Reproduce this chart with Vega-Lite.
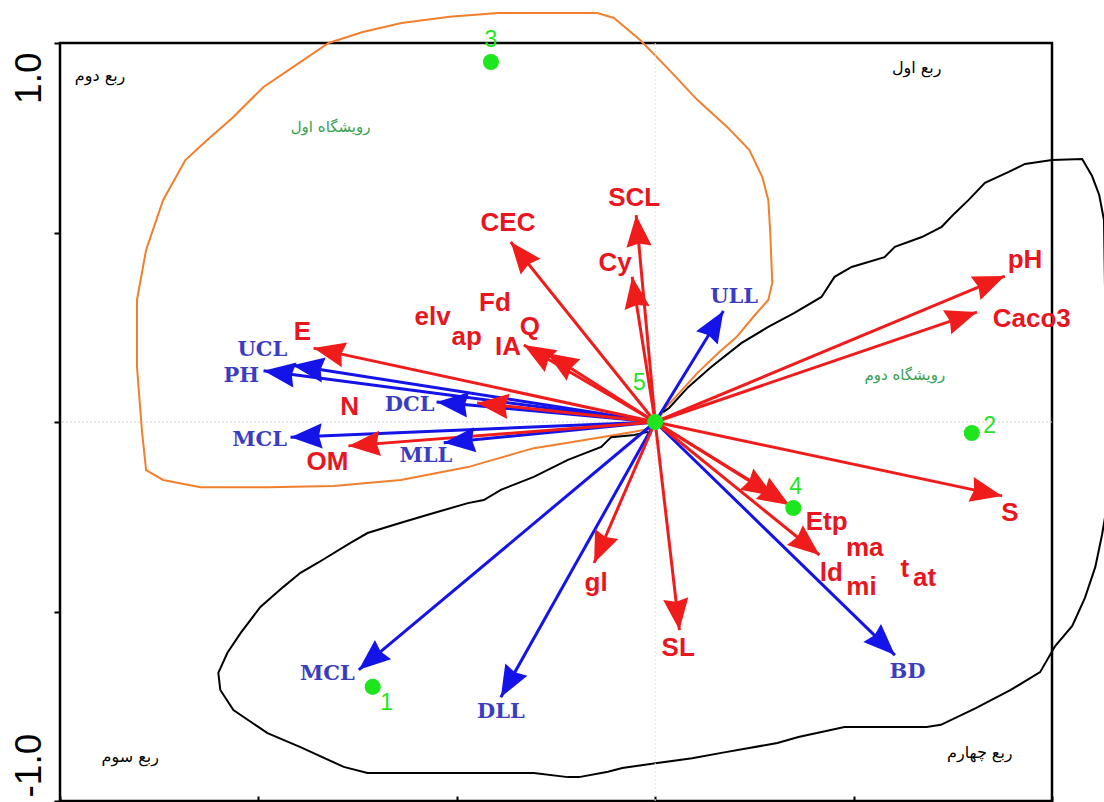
{
  "$schema": "https://vega.github.io/schema/vega-lite/v6.json",
  "width": 992,
  "height": 758,
  "autosize": {"type": "none"},
  "padding": {"left": 60, "top": 43, "right": 52, "bottom": 1},
  "background": "white",
  "config": {"view": {"stroke": "black", "strokeWidth": 2.5}},
  "datasets": {
    "orange": [
      {"ord":1,"x":0.008,"y":0.005},{"ord":2,"x":-0.005,"y":-0.016},{"ord":3,"x":-0.053,"y":-0.026},{"ord":4,"x":-0.136,"y":-0.040},
      {"ord":5,"x":-0.220,"y":-0.055},{"ord":6,"x":-0.306,"y":-0.069},{"ord":7,"x":-0.472,"y":-0.119},{"ord":8,"x":-0.641,"y":-0.153},
      {"ord":9,"x":-0.811,"y":-0.169},{"ord":10,"x":-0.977,"y":-0.172},{"ord":11,"x":-1.146,"y":-0.172},{"ord":12,"x":-1.240,"y":-0.153},
      {"ord":13,"x":-1.283,"y":-0.127},{"ord":14,"x":-1.293,"y":-0.029},{"ord":15,"x":-1.306,"y":0.145},{"ord":16,"x":-1.306,"y":0.322},
      {"ord":17,"x":-1.283,"y":0.454},{"ord":18,"x":-1.240,"y":0.586},{"ord":19,"x":-1.184,"y":0.691},{"ord":20,"x":-1.129,"y":0.744},
      {"ord":21,"x":-1.063,"y":0.805},{"ord":22,"x":-0.987,"y":0.884},{"ord":23,"x":-0.912,"y":0.937},{"ord":24,"x":-0.823,"y":1.000},
      {"ord":25,"x":-0.737,"y":1.029},{"ord":26,"x":-0.639,"y":1.053},{"ord":27,"x":-0.518,"y":1.069},{"ord":28,"x":-0.396,"y":1.079},
      {"ord":29,"x":-0.146,"y":1.079},{"ord":30,"x":-0.104,"y":1.066},{"ord":31,"x":-0.038,"y":1.008},{"ord":32,"x":0.028,"y":0.937},
      {"ord":33,"x":0.106,"y":0.850},{"ord":34,"x":0.182,"y":0.778},{"ord":35,"x":0.237,"y":0.718},{"ord":36,"x":0.270,"y":0.646},
      {"ord":37,"x":0.285,"y":0.586},{"ord":38,"x":0.290,"y":0.499},{"ord":39,"x":0.295,"y":0.367},{"ord":40,"x":0.285,"y":0.322},
      {"ord":41,"x":0.247,"y":0.277},{"ord":42,"x":0.205,"y":0.224},{"ord":43,"x":0.159,"y":0.182},{"ord":44,"x":0.106,"y":0.129},
      {"ord":45,"x":0.061,"y":0.077},{"ord":46,"x":0.028,"y":0.040},{"ord":47,"x":0.008,"y":0.005}
    ],
    "black": [
      {"ord":1,"x":0.020,"y":0.026},{"ord":2,"x":0.035,"y":0.037},{"ord":3,"x":0.083,"y":0.092},{"ord":4,"x":0.141,"y":0.145},
      {"ord":5,"x":0.217,"y":0.208},{"ord":6,"x":0.285,"y":0.251},{"ord":7,"x":0.351,"y":0.288},{"ord":8,"x":0.419,"y":0.330},
      {"ord":9,"x":0.452,"y":0.383},{"ord":10,"x":0.495,"y":0.409},{"ord":11,"x":0.578,"y":0.435},{"ord":12,"x":0.604,"y":0.462},
      {"ord":13,"x":0.672,"y":0.488},{"ord":14,"x":0.722,"y":0.515},{"ord":15,"x":0.755,"y":0.551},{"ord":16,"x":0.790,"y":0.586},
      {"ord":17,"x":0.831,"y":0.631},{"ord":18,"x":0.891,"y":0.660},{"ord":19,"x":0.932,"y":0.681},{"ord":20,"x":1.000,"y":0.691},
      {"ord":21,"x":1.076,"y":0.694},{"ord":22,"x":1.101,"y":0.649},{"ord":23,"x":1.119,"y":0.599},{"ord":24,"x":1.131,"y":0.533},
      {"ord":25,"x":1.134,"y":0.322},{"ord":26,"x":1.134,"y":0.058},{"ord":27,"x":1.136,"y":-0.237},{"ord":28,"x":1.126,"y":-0.298},
      {"ord":29,"x":1.109,"y":-0.383},{"ord":30,"x":1.083,"y":-0.464},{"ord":31,"x":1.051,"y":-0.538},{"ord":32,"x":1.008,"y":-0.591},
      {"ord":33,"x":0.970,"y":-0.660},{"ord":34,"x":0.896,"y":-0.707},{"ord":35,"x":0.808,"y":-0.755},{"ord":36,"x":0.720,"y":-0.799},
      {"ord":37,"x":0.684,"y":-0.805},{"ord":38,"x":0.477,"y":-0.805},{"ord":39,"x":0.361,"y":-0.831},{"ord":40,"x":0.308,"y":-0.847},
      {"ord":41,"x":0.167,"y":-0.873},{"ord":42,"x":0.093,"y":-0.887},{"ord":43,"x":0.005,"y":-0.900},{"ord":44,"x":-0.083,"y":-0.913},
      {"ord":45,"x":-0.119,"y":-0.923},{"ord":46,"x":-0.192,"y":-0.937},{"ord":47,"x":-0.220,"y":-0.937},{"ord":48,"x":-0.306,"y":-0.926},
      {"ord":49,"x":-0.725,"y":-0.926},{"ord":50,"x":-0.785,"y":-0.910},{"ord":51,"x":-0.894,"y":-0.858},{"ord":52,"x":-0.977,"y":-0.821},
      {"ord":53,"x":-1.063,"y":-0.760},{"ord":54,"x":-1.096,"y":-0.707},{"ord":55,"x":-1.101,"y":-0.662},{"ord":56,"x":-1.078,"y":-0.609},
      {"ord":57,"x":-1.045,"y":-0.557},{"ord":58,"x":-0.995,"y":-0.488},{"ord":59,"x":-0.937,"y":-0.435},{"ord":60,"x":-0.894,"y":-0.398},
      {"ord":61,"x":-0.851,"y":-0.372},{"ord":62,"x":-0.768,"y":-0.319},{"ord":63,"x":-0.725,"y":-0.293},{"ord":64,"x":-0.641,"y":-0.266},
      {"ord":65,"x":-0.558,"y":-0.240},{"ord":66,"x":-0.472,"y":-0.214},{"ord":67,"x":-0.432,"y":-0.206},{"ord":68,"x":-0.389,"y":-0.179},
      {"ord":69,"x":-0.306,"y":-0.145},{"ord":70,"x":-0.220,"y":-0.100},{"ord":71,"x":-0.136,"y":-0.066},{"ord":72,"x":-0.111,"y":-0.040},
      {"ord":73,"x":-0.053,"y":-0.034},{"ord":74,"x":-0.018,"y":-0.026}
    ],
    "arrows": [
      {"name":"ULL","grp":"soil","x":0.172,"y":0.293},
      {"name":"UCL","grp":"soil","x":-0.914,"y":0.150},
      {"name":"PH","grp":"soil","x":-0.987,"y":0.135},
      {"name":"DCL","grp":"soil","x":-0.551,"y":0.053},
      {"name":"MCL","grp":"soil","x":-0.919,"y":-0.040},
      {"name":"MLL","grp":"soil","x":-0.533,"y":-0.055},
      {"name":"MCL2","grp":"soil","x":-0.747,"y":-0.654},
      {"name":"DLL","grp":"soil","x":-0.389,"y":-0.726},
      {"name":"BD","grp":"soil","x":0.604,"y":-0.615},
      {"name":"SCL","grp":"env","x":-0.048,"y":0.546},
      {"name":"Cy","grp":"env","x":-0.058,"y":0.383},
      {"name":"CEC","grp":"env","x":-0.364,"y":0.475},
      {"name":"IA","grp":"env","x":-0.331,"y":0.203},
      {"name":"Q","grp":"env","x":-0.273,"y":0.182},
      {"name":"E","grp":"env","x":-0.861,"y":0.195},
      {"name":"N","grp":"env","x":-0.449,"y":0.050},
      {"name":"OM","grp":"env","x":-0.773,"y":-0.063},
      {"name":"pH","grp":"env","x":0.881,"y":0.385},
      {"name":"Caco3","grp":"env","x":0.811,"y":0.290},
      {"name":"S","grp":"env","x":0.874,"y":-0.195},
      {"name":"Etp","grp":"env","x":0.338,"y":-0.219},
      {"name":"ma","grp":"env","x":0.298,"y":-0.195},
      {"name":"ld","grp":"env","x":0.414,"y":-0.351},
      {"name":"gl","grp":"env","x":-0.154,"y":-0.372},
      {"name":"SL","grp":"env","x":0.061,"y":-0.549}
    ],
    "labels": [
      {"text":"SCL","kind":"env","x":-0.053,"y":0.591},
      {"text":"Cy","kind":"env","x":-0.101,"y":0.420},
      {"text":"CEC","kind":"env","x":-0.371,"y":0.525},
      {"text":"elv","kind":"env","x":-0.561,"y":0.277},
      {"text":"Fd","kind":"env","x":-0.404,"y":0.314},
      {"text":"ap","kind":"env","x":-0.475,"y":0.224},
      {"text":"Q","kind":"env","x":-0.316,"y":0.251},
      {"text":"IA","kind":"env","x":-0.371,"y":0.198},
      {"text":"E","kind":"env","x":-0.889,"y":0.237},
      {"text":"N","kind":"env","x":-0.770,"y":0.040},
      {"text":"OM","kind":"env","x":-0.826,"y":-0.106},
      {"text":"pH","kind":"env","x":0.932,"y":0.427},
      {"text":"Caco3","kind":"env","x":0.949,"y":0.272},
      {"text":"S","kind":"env","x":0.894,"y":-0.240},
      {"text":"Etp","kind":"env","x":0.432,"y":-0.264},
      {"text":"ma","kind":"env","x":0.528,"y":-0.332},
      {"text":"ld","kind":"env","x":0.444,"y":-0.398},
      {"text":"mi","kind":"env","x":0.520,"y":-0.435},
      {"text":"t","kind":"env","x":0.629,"y":-0.388},
      {"text":"at","kind":"env","x":0.679,"y":-0.412},
      {"text":"gl","kind":"env","x":-0.149,"y":-0.425},
      {"text":"SL","kind":"env","x":0.058,"y":-0.596},
      {"text":"ULL","kind":"soil","x":0.199,"y":0.330},
      {"text":"UCL","kind":"soil","x":-0.990,"y":0.190},
      {"text":"PH","kind":"soil","x":-1.043,"y":0.121},
      {"text":"DCL","kind":"soil","x":-0.619,"y":0.045},
      {"text":"MCL","kind":"soil","x":-0.997,"y":-0.047},
      {"text":"MLL","kind":"soil","x":-0.578,"y":-0.090},
      {"text":"MCL","kind":"soil","x":-0.826,"y":-0.665},
      {"text":"DLL","kind":"soil","x":-0.389,"y":-0.765},
      {"text":"BD","kind":"soil","x":0.636,"y":-0.660},
      {"text":"1","kind":"site","x":-0.677,"y":-0.741},
      {"text":"2","kind":"site","x":0.843,"y":-0.011},
      {"text":"3","kind":"site","x":-0.414,"y":1.008},
      {"text":"4","kind":"site","x":0.354,"y":-0.172},
      {"text":"5","kind":"site","x":-0.040,"y":0.103},
      {"text":"ربع دوم","kind":"quad","x":-1.399,"y":0.913},
      {"text":"ربع اول","kind":"quad","x":0.659,"y":0.934},
      {"text":"ربع سوم","kind":"quad","x":-1.323,"y":-0.884},
      {"text":"ربع چهارم","kind":"quad","x":0.818,"y":-0.873},
      {"text":"رویشگاه اول","kind":"hab","x":-0.818,"y":0.778},
      {"text":"رویشگاه دوم","kind":"hab","x":0.629,"y":0.124}
    ],
    "sites": [
      {"site":"1","x":-0.712,"y":-0.699},
      {"site":"2","x":0.798,"y":-0.029},
      {"site":"3","x":-0.414,"y":0.950},
      {"site":"4","x":0.348,"y":-0.227},
      {"site":"5","x":0.0,"y":0.0}
    ]
  },
  "layer": [
    {
      "data": {"name": "orange"},
      "mark": {"type": "line", "color": "#f07f2e", "strokeWidth": 2, "clip": false},
      "encoding": {
        "x": {"field": "x", "type": "quantitative",
          "scale": {"domain": [-1.5, 1], "nice": false, "zero": false},
          "axis": {"values": [-1.5, -1, -0.5, 0, 0.5, 1], "labels": false, "title": null, "domain": false, "grid": false,
                   "tickSize": -5, "tickWidth": 2, "tickColor": "black"}},
        "y": {"field": "y", "type": "quantitative",
          "scale": {"domain": [-1, 1], "nice": false, "zero": false},
          "axis": {"values": [-1, -0.5, 0, 0.5, 1], "title": null, "domain": false, "grid": false,
                   "tickSize": 6, "tickWidth": 2, "tickColor": "black",
                   "labelExpr": "datum.value == 1 ? '1.0' : (datum.value == -1 ? '-1.0' : '')",
                   "labelAngle": 270,
                   "labelAlign": {"condition": {"test": "datum.value > 0", "value": "right"}, "value": "left"},
                   "labelOffset": {"condition": {"test": "datum.value > 0", "value": 9}, "value": -4},
                   "labelBaseline": "alphabetic",
                   "labelPadding": 14, "labelFont": "Liberation Sans", "labelFontSize": 37, "labelColor": "black",
                   "labelFlush": false, "labelOverlap": false, "labelBound": false}},
        "order": {"field": "ord", "type": "quantitative"}
      }
    },
    {
      "data": {"name": "black"},
      "mark": {"type": "line", "color": "black", "strokeWidth": 2, "clip": false},
      "encoding": {
        "x": {"field": "x", "type": "quantitative"},
        "y": {"field": "y", "type": "quantitative"},
        "order": {"field": "ord", "type": "quantitative"}
      }
    },
    {
      "data": {"values": [{}]},
      "mark": {"type": "rule", "color": "#cfcfcf", "strokeWidth": 1, "strokeDash": [2, 2]},
      "encoding": {"y": {"datum": 0, "type": "quantitative"}}
    },
    {
      "data": {"values": [{}]},
      "mark": {"type": "rule", "color": "#e0e0e0", "strokeWidth": 1, "strokeDash": [2, 2]},
      "encoding": {"x": {"datum": 0, "type": "quantitative"}}
    },
    {
      "data": {"name": "arrows"},
      "mark": {"type": "rule", "strokeWidth": 3},
      "encoding": {
        "x": {"field": "x", "type": "quantitative"},
        "y": {"field": "y", "type": "quantitative"},
        "x2": {"datum": 0},
        "y2": {"datum": 0},
        "color": {"field": "grp", "type": "nominal", "scale": {"domain": ["soil", "env"], "range": ["#1414e8", "#f01c1c"]}, "legend": null}
      }
    },
    {
      "data": {"name": "arrows"},
      "transform": [{"calculate": "atan2(datum.x * 396.8, datum.y * 379) * 180 / PI", "as": "ang"}],
      "mark": {"type": "point", "filled": true, "opacity": 1, "strokeWidth": 0, "shape": "M0,0L-0.8,2L0,1.8L0.8,2Z", "size": 1000},
      "encoding": {
        "x": {"field": "x", "type": "quantitative"},
        "y": {"field": "y", "type": "quantitative"},
        "angle": {"field": "ang", "type": "quantitative", "scale": null},
        "color": {"field": "grp", "type": "nominal", "scale": {"domain": ["soil", "env"], "range": ["#1414e8", "#f01c1c"]}, "legend": null}
      }
    },
    {
      "data": {"name": "sites"},
      "mark": {"type": "point", "shape": "circle", "filled": true, "opacity": 1, "color": "#1ee61e", "size": 260},
      "encoding": {
        "x": {"field": "x", "type": "quantitative"},
        "y": {"field": "y", "type": "quantitative"}
      }
    },
    {
      "data": {"name": "labels"},
      "transform": [{"filter": "datum.kind == 'env'"}],
      "mark": {"type": "text", "font": "Liberation Sans", "fontWeight": "bold", "fontSize": 26, "color": "#e8161e", "align": "center", "baseline": "middle"},
      "encoding": {
        "x": {"field": "x", "type": "quantitative"},
        "y": {"field": "y", "type": "quantitative"},
        "text": {"field": "text"}
      }
    },
    {
      "data": {"name": "labels"},
      "transform": [{"filter": "datum.kind == 'soil'"}],
      "mark": {"type": "text", "font": "DejaVu Serif", "fontWeight": "bold", "fontSize": 21, "color": "#3c3cc2", "align": "center", "baseline": "middle"},
      "encoding": {
        "x": {"field": "x", "type": "quantitative"},
        "y": {"field": "y", "type": "quantitative"},
        "text": {"field": "text"}
      }
    },
    {
      "data": {"name": "labels"},
      "transform": [{"filter": "datum.kind == 'site'"}],
      "mark": {"type": "text", "font": "Liberation Sans", "fontSize": 23, "color": "#1ee61e", "align": "center", "baseline": "middle"},
      "encoding": {
        "x": {"field": "x", "type": "quantitative"},
        "y": {"field": "y", "type": "quantitative"},
        "text": {"field": "text"}
      }
    },
    {
      "data": {"name": "labels"},
      "transform": [{"filter": "datum.kind == 'quad'"}],
      "mark": {"type": "text", "font": "DejaVu Sans", "fontSize": 16, "color": "black", "align": "center", "baseline": "middle"},
      "encoding": {
        "x": {"field": "x", "type": "quantitative"},
        "y": {"field": "y", "type": "quantitative"},
        "text": {"field": "text"}
      }
    },
    {
      "data": {"name": "labels"},
      "transform": [{"filter": "datum.kind == 'hab'"}],
      "mark": {"type": "text", "font": "DejaVu Sans", "fontSize": 15, "color": "#3a9e50", "align": "center", "baseline": "middle"},
      "encoding": {
        "x": {"field": "x", "type": "quantitative"},
        "y": {"field": "y", "type": "quantitative"},
        "text": {"field": "text"}
      }
    }
  ]
}
